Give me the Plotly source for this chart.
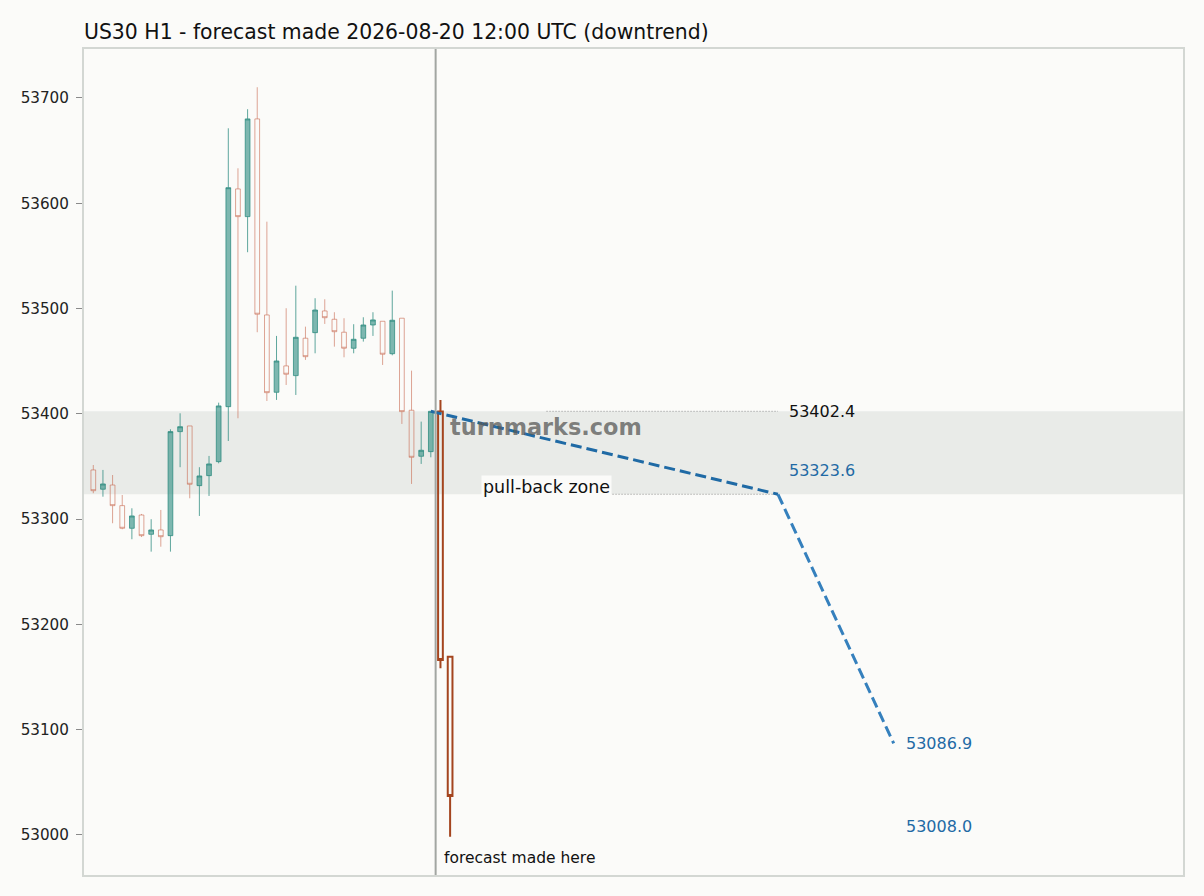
import plotly.graph_objects as go

# ---- data ----
hist_x = list(range(36))
hist_open = [53346.7, 53328.4, 53332.4, 53312.8, 53291.3, 53303.9, 53285.6, 53289.7, 53284.3, 53383.1,
             53388.5, 53331.8, 53341.3, 53354.6, 53406.8, 53613.6, 53587.3, 53680.1, 53493.9, 53420.5,
             53445.5, 53436.3, 53471.8, 53477.1, 53497.7, 53489.8, 53477.5, 53462.3, 53471.8, 53484.4,
             53487.9, 53457.1, 53490.8, 53403.4, 53359.7, 53364.1]
hist_high = [53351.4, 53346.7, 53341.9, 53322.9, 53310.3, 53304.9, 53299.9, 53308.7, 53385.3, 53400.5,
             53388.5, 53349.3, 53360.0, 53410.6, 53671.2, 53633.2, 53689.3, 53710.2, 53582.5, 53474.0,
             53500.3, 53521.7, 53482.8, 53509.8, 53508.8, 53496.5, 53490.8, 53485.1, 53491.7, 53496.5,
             53487.9, 53517.0, 53490.8, 53441.0, 53392.6, 53402.4]
hist_low = [53324.6, 53321.3, 53296.1, 53290.4, 53280.9, 53283.0, 53269.1, 53273.8, 53269.1, 53349.3,
            53319.8, 53303.0, 53322.0, 53353.0, 53374.2, 53395.8, 53553.5, 53477.5, 53412.2, 53413.2,
            53427.4, 53417.9, 53451.2, 53457.5, 53485.4, 53463.8, 53453.7, 53457.5, 53468.6, 53474.0,
            53446.4, 53455.6, 53390.4, 53333.4, 53352.4, 53358.7]
hist_close = [53327.0, 53333.4, 53312.8, 53291.3, 53303.0, 53284.3, 53289.7, 53283.3, 53383.1, 53387.8,
              53333.1, 53341.0, 53352.4, 53407.5, 53614.8, 53587.3, 53680.1, 53494.6, 53420.1, 53450.2,
              53437.6, 53472.7, 53454.3, 53498.6, 53491.3, 53478.0, 53462.3, 53470.8, 53484.4, 53489.2,
              53456.6, 53488.9, 53402.1, 53358.7, 53365.4, 53402.4]

fut_x = [36, 37]
fut_open = [53402.1, 53169.4]
fut_high = [53413.2, 53169.4]
fut_low = [53158.4, 52998.4]
fut_close = [53166.2, 53037.1]

forecast_x = [35, 71, 83]
forecast_y = [53402.4, 53323.6, 53086.9]

zone_top = 53402.4
zone_bottom = 53323.6
target_low = 53008.0
forecast_time_x = 35.5
zone_label_x = 47
value_label_x = 79.2
end_label_x = 84.1

title_text = "US30 H1 - forecast made 2026-08-20 12:00 UTC (downtrend)"
y_ticks = [53000, 53100, 53200, 53300, 53400, 53500, 53600, 53700]

BG = "#fbfbf9"
BLUE = "#1f6aa5"
BLUE2 = "#3580bd"
FONT = "DejaVu Sans"

fig = go.Figure()

# pull-back zone band
fig.add_hrect(y0=zone_bottom, y1=zone_top, fillcolor="#e9ebe8", line_width=0, layer="below")

fig.add_trace(go.Candlestick(
    x=hist_x, open=hist_open, high=hist_high, low=hist_low, close=hist_close,
    increasing=dict(line=dict(color="rgba(42,138,126,0.75)", width=1), fillcolor="rgba(42,138,126,0.6)"),
    decreasing=dict(line=dict(color="rgba(200,105,80,0.6)", width=1), fillcolor="rgba(0,0,0,0)"),
    whiskerwidth=0, showlegend=False, hoverinfo="skip"))

fig.add_trace(go.Candlestick(
    x=fut_x, open=fut_open, high=fut_high, low=fut_low, close=fut_close,
    increasing=dict(line=dict(color="#a4451f", width=2), fillcolor="rgba(0,0,0,0)"),
    decreasing=dict(line=dict(color="#a4451f", width=2), fillcolor="rgba(0,0,0,0)"),
    whiskerwidth=0, showlegend=False, hoverinfo="skip"))

# dotted level lines
fig.add_trace(go.Scatter(x=[zone_label_x, forecast_x[1]], y=[zone_top, zone_top], mode="lines",
                         line=dict(color="#8f8f8f", width=1, dash="1px,2px"), showlegend=False, hoverinfo="skip"))
fig.add_trace(go.Scatter(x=[zone_label_x, forecast_x[1]], y=[zone_bottom, zone_bottom], mode="lines",
                         line=dict(color="#8f8f8f", width=1, dash="1px,2px"), showlegend=False, hoverinfo="skip"))

# forecast path
fig.add_trace(go.Scatter(x=forecast_x[:2], y=forecast_y[:2], mode="lines",
                         line=dict(color=BLUE, width=3, dash="11px,5px"), showlegend=False, hoverinfo="skip"))
fig.add_trace(go.Scatter(x=forecast_x[1:], y=forecast_y[1:], mode="lines",
                         line=dict(color=BLUE2, width=3, dash="11px,5px"), showlegend=False, hoverinfo="skip"))

# forecast time vertical line
fig.add_vline(x=forecast_time_x, line=dict(color="#a2a6a2", width=2))

ann = []
ann.append(dict(x=value_label_x, y=zone_top, xref="x", yref="y", text=f"{zone_top:.1f}", showarrow=False,
                xanchor="right", yanchor="middle", font=dict(family=FONT, size=16, color="#111111")))
ann.append(dict(x=value_label_x, y=forecast_y[1], xref="x", yref="y", text=f"{forecast_y[1]:.1f}", showarrow=False,
                xanchor="right", yanchor="middle", yshift=24, font=dict(family=FONT, size=16, color=BLUE)))
ann.append(dict(x=end_label_x, y=forecast_y[2], xref="x", yref="y", text=f"{forecast_y[2]:.1f}", showarrow=False,
                xanchor="left", yanchor="middle", font=dict(family=FONT, size=16, color=BLUE)))
ann.append(dict(x=end_label_x, y=target_low, xref="x", yref="y", text=f"{target_low:.1f}", showarrow=False,
                xanchor="left", yanchor="middle", font=dict(family=FONT, size=16, color=BLUE)))
ann.append(dict(x=zone_label_x, y=zone_bottom, xref="x", yref="y", text="pull-back zone", showarrow=False,
                xanchor="center", yanchor="middle", yshift=7, bgcolor=BG, borderpad=1,
                font=dict(family=FONT, size=17.5, color="#111111")))
ann.append(dict(x=0.42, y=0.542, xref="paper", yref="paper", text="<b>turnmarks.com</b>", showarrow=False,
                xanchor="center", yanchor="middle", font=dict(family=FONT, size=22.4, color="rgba(90,90,88,0.75)")))
ann.append(dict(x=forecast_time_x, y=0.0206, xref="x", yref="paper", text="forecast made here", showarrow=False,
                xanchor="left", yanchor="middle", xshift=6, font=dict(family=FONT, size=15.5, color="#111111")))

fig.update_layout(
    width=1204, height=896,
    margin=dict(l=84, r=21, t=49, b=21),
    paper_bgcolor=BG, plot_bgcolor=BG,
    title=dict(text=title_text, x=84 / 1204, xanchor="left", xref="container",
               y=1 - 32 / 896, yanchor="middle", yref="container",
               font=dict(family=FONT, size=20.4, color="#111111")),
    annotations=ann,
    font=dict(family=FONT),
)
fig.update_xaxes(range=[-0.965, 113.0], showticklabels=False, ticks="", showgrid=False, zeroline=False,
                 rangeslider=dict(visible=False), showline=True, mirror=True, linecolor="#d3d7d3", linewidth=2)
fig.update_yaxes(range=[52962, 53746.5], tickvals=y_ticks, ticktext=[str(v) for v in y_ticks],
                 ticks="outside", ticklen=6, tickcolor="#8a8a8a", tickwidth=1, ticklabelstandoff=4,
                 tickfont=dict(family=FONT, size=15.2, color="#222222"), showgrid=False, zeroline=False,
                 showline=True, mirror=True, linecolor="#d3d7d3", linewidth=2)

fig.write_html("out.html")
